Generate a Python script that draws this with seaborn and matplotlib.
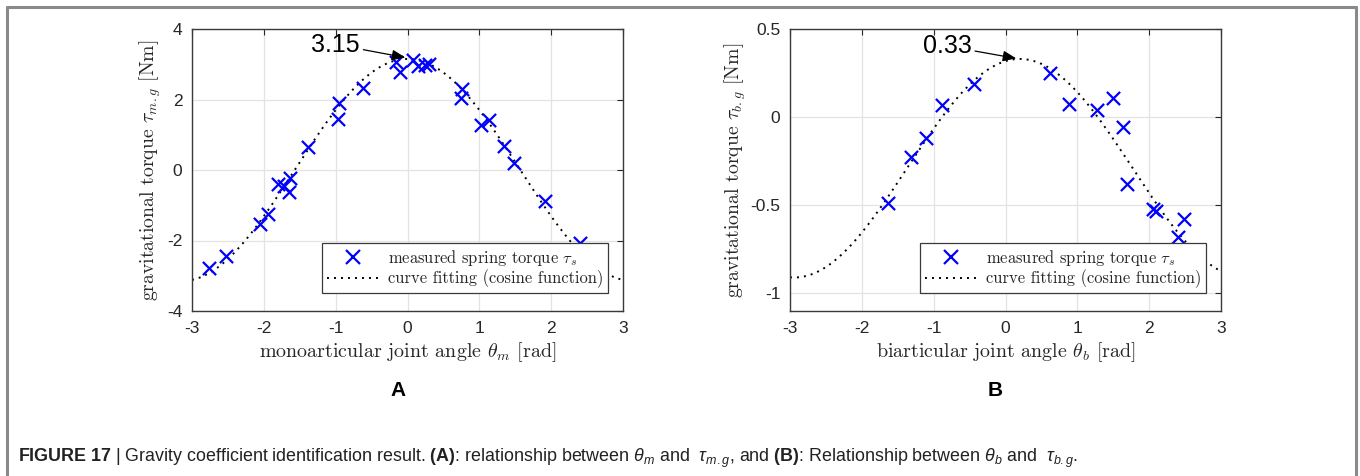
import numpy as np
import pandas as pd
import matplotlib
matplotlib.use("Agg")
import matplotlib.pyplot as plt
import seaborn as sns
from matplotlib.lines import Line2D

# ---- measured spring torque: monoarticular joint ----
theta_m = [-2.76, -2.52, -2.05, -1.94, -1.80, -1.72, -1.64, -1.65, -1.38, -0.97,
           -0.96, -0.62, -0.16, -0.10, 0.07, 0.15, 0.24, 0.30, 0.74, 0.76,
           1.03, 1.13, 1.35, 1.48, 1.91, 2.40]
tau_m = [-2.77, -2.44, -1.52, -1.26, -0.39, -0.45, -0.24, -0.62, 0.65, 1.46,
         1.90, 2.33, 3.06, 2.78, 3.13, 2.95, 2.97, 3.02, 2.05, 2.31,
         1.27, 1.42, 0.67, 0.20, -0.88, -2.07]

# ---- measured spring torque: biarticular joint ----
theta_b = [-1.64, -1.31, -1.11, -0.89, -0.44, 0.62, 0.88, 1.27, 1.49, 1.63,
           1.69, 2.06, 2.10, 2.40, 2.49]
tau_b = [-0.487, -0.227, -0.121, 0.068, 0.19, 0.252, 0.072, 0.04, 0.11, -0.055,
         -0.38, -0.52, -0.534, -0.68, -0.577]

# ---- cosine fits: tau = amp*cos(theta - phase) + (peak - amp) ----
peak_m, amp_m, phase_m = 3.15, 3.15, 0.0
peak_b, amp_b, phase_b = 0.33, 0.62, 0.20

x_ticks = [-3, -2, -1, 0, 1, 2, 3]
y_ticks_m = [-4, -2, 0, 2, 4]
y_ticks_b = [-1, -0.5, 0, 0.5]
tick_labels_b = ["-1", "-0.5", "0", "0.5"]

sns.set_style("white")
plt.rcParams["font.family"] = ["Liberation Sans", "DejaVu Sans"]
plt.rcParams["axes.unicode_minus"] = False
plt.rcParams["mathtext.fontset"] = "custom"
plt.rcParams["mathtext.rm"] = "Liberation Sans"
plt.rcParams["mathtext.it"] = "Liberation Sans:italic"
plt.rcParams["mathtext.bf"] = "Liberation Sans:bold"

W, H = 1360, 476
fig = plt.figure(figsize=(W / 100, H / 100), dpi=100)
fig.patch.set_facecolor("white")

ax_m = fig.add_axes([192 / W, 1 - 311 / H, 431 / W, 282 / H])
ax_b = fig.add_axes([790 / W, 1 - 311 / H, 431 / W, 282 / H])

theta_fit = np.linspace(-3, 3, 400)


def cos_fit(theta, peak, amp, phase):
    return amp * np.cos(theta - phase) + (peak - amp)


serif = dict(family="cmr10", math_fontfamily="cm")
DOTS = (0, (1, 2.6))


def draw_panel(ax, th, tq, peak, amp, phase, ylim, yticks, yticklabels,
               xlabel, ylabel, ylabel_x, ann_text, ann_tip, ann_from,
               panel_letter, letter_x):
    fit_df = pd.DataFrame({"theta": theta_fit,
                           "tau": cos_fit(theta_fit, peak, amp, phase)})
    pts_df = pd.DataFrame({"theta": th, "tau": tq})

    ax.grid(True, color="#e3e3e3", lw=0.9, zorder=0)
    sns.lineplot(data=fit_df, x="theta", y="tau", ax=ax, color="black",
                 lw=1.4, linestyle=DOTS, zorder=2)
    sns.scatterplot(data=pts_df, x="theta", y="tau", ax=ax, marker="x",
                    color="#0000ff", s=90, linewidth=1.6, zorder=3)

    ax.set_xlim(-3, 3)
    ax.set_ylim(*ylim)
    ax.set_xticks(x_ticks)
    ax.set_xticklabels([str(t) for t in x_ticks])
    ax.set_yticks(yticks)
    ax.set_yticklabels(yticklabels)
    ax.tick_params(direction="in", length=4, width=0.8, top=True, right=True,
                   labelsize=12.5, colors="#262626", pad=7)
    for sp in ax.spines.values():
        sp.set_visible(True)
        sp.set_color("#3a3a3a")
        sp.set_linewidth(1.0)
    ax.set_axisbelow(True)

    ax.set_xlabel(xlabel, fontsize=14.4, labelpad=3, color="#262626", **serif)
    ax.set_ylabel(ylabel, fontsize=14.2, color="#262626", **serif)
    ax.yaxis.set_label_coords(ylabel_x, 0.5)

    ax.annotate(ann_text, xy=ann_tip, xytext=ann_from, ha="right", va="center",
                fontsize=18, color="black",
                arrowprops=dict(arrowstyle="-|>,head_length=0.45,head_width=0.18",
                                color="black", lw=0.9, shrinkA=0, shrinkB=0))

    handles = [
        Line2D([], [], marker="x", color="#0000ff", linestyle="none",
               markersize=9.5, markeredgewidth=1.6),
        Line2D([], [], color="black", lw=1.4, linestyle=DOTS),
    ]
    labels = [r"measured spring torque $\tau_s$",
              "curve fitting (cosine function)"]
    leg = ax.legend(handles, labels, loc="lower right",
                    bbox_to_anchor=(0.965, 0.063), frameon=True, fancybox=False,
                    framealpha=1, edgecolor="#3a3a3a", borderpad=0.3,
                    handlelength=3.15, handletextpad=0.5, labelspacing=0.1,
                    borderaxespad=0,
                    prop=dict(family="cmr10", math_fontfamily="cm", size=11.9))
    leg.get_frame().set_linewidth(0.9)

    fig.text(letter_x / W, 1 - 390 / H, panel_letter, ha="center",
             va="center", fontsize=15, fontweight="bold", color="black")


draw_panel(ax_m, theta_m, tau_m, peak_m, amp_m, phase_m, (-4, 4), y_ticks_m,
           [str(t) for t in y_ticks_m],
           r"monoarticular joint angle $\theta_m$ [rad]",
           r"gravitational torque $\tau_{m.g}$ [Nm]", -0.068,
           f"{peak_m:.2f}", (-0.03, 3.19), (-0.66, 3.56), "A", 398)

draw_panel(ax_b, theta_b, tau_b, peak_b, amp_b, phase_b, (-1.1, 0.5), y_ticks_b,
           tick_labels_b,
           r"biarticular joint angle $\theta_b$ [rad]",
           r"gravitational torque $\tau_{b.g}$ [Nm]", -0.097,
           f"{peak_b:.2f}", (0.15, 0.333), (-0.47, 0.403), "B", 995)

# caption
caption = (r"$\mathbf{FIGURE\ 17}$ | Gravity coefficient identification result. "
           r"$\mathbf{(A)}$: relationship between $\theta_m$ and  $\tau_{m.g}$, "
           r"and $\mathbf{(B)}$: Relationship between $\theta_b$ and  $\tau_{b.g}$.")
fig.text(18 / W, 1 - 458 / H, caption, ha="left", va="center", fontsize=12.9,
         color="#222222", family=["Liberation Sans"],
         math_fontfamily="custom")

# outer figure border
border = dict(color="#8a8a8a", lw=2.2, transform=fig.transFigure)
fig.add_artist(Line2D([7 / W, 7 / W], [0, 1 - 7 / H], **border))
fig.add_artist(Line2D([7 / W, 1356 / W], [1 - 7 / H, 1 - 7 / H], **border))
fig.add_artist(Line2D([1356 / W, 1356 / W], [0, 1 - 7 / H], **border))

fig.savefig("out.png", dpi=100, facecolor="white")
